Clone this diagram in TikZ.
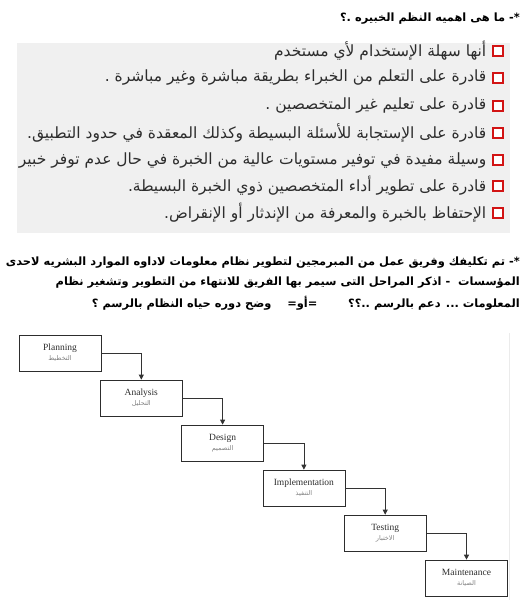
\documentclass[tikz,border=0pt]{standalone}
\usepackage{fontspec}
\setmainfont{Liberation Serif}
\newfontfamily\arabicfont[Script=Arabic]{DejaVu Sans}
\usepackage{xcolor}
\usepackage{tikz}
\usetikzlibrary{positioning, arrows.meta}
\TeXXeTstate=1

\definecolor{boxred}{RGB}{210,20,20}
\definecolor{itemgray}{RGB}{45,45,45}
\definecolor{panelgray}{RGB}{240,240,240}
\definecolor{stagegray}{RGB}{45,45,45}

\tikzset{
  itemtext/.style={anchor=east, inner sep=0pt, text=itemgray, font=\arabicfont\fontsize{15.5}{18}\selectfont},
  headtext/.style={anchor=east, inner sep=0pt, font=\arabicfont\bfseries\fontsize{11.4}{13}\selectfont},
  tick/.style={draw=boxred, fill=white, line width=1.1pt, minimum size=10pt, inner sep=0pt},
  stage/.style={draw=stagegray, line width=0.7pt, minimum width=82pt, minimum height=36pt, align=center, text=stagegray, font=\fontsize{9.5}{10}\selectfont},
  flow/.style={draw=black!80, line width=0.8pt, -{Triangle[length=5pt,width=5pt]}}
}
\newcommand{\ar}[1]{\beginR #1\endR}
\newcommand{\sub}[1]{{\arabicfont\fontsize{6.5}{7.5}\selectfont\color{gray}\beginR #1\endR}}

\begin{document}
\begin{tikzpicture}[x=1pt, y=-1pt, node distance=45pt and 81.3pt, on grid]

  \useasboundingbox (0,0) rectangle (523,600);

  % question one
  \node[headtext] (q1) at (520,19) {\ar{*- ما هى اهميه النظم الخبيره .؟}};

  \fill[panelgray] (17,43) rectangle (510,233);

  \node[tick] (c1) at (498,51) {};
  \node[tick] (c2) at (498,78) {};
  \node[tick] (c3) at (498,106) {};
  \node[tick] (c4) at (498,133) {};
  \node[tick] (c5) at (498,160) {};
  \node[tick] (c6) at (498,186) {};
  \node[tick] (c7) at (498,213) {};

  \node[itemtext] (i1) [left=6pt of c1.west] {\ar{أنها سهلة الإستخدام لأي مستخدم}};
  \node[itemtext] (i2) [left=6pt of c2.west] {\ar{قادرة على التعلم من الخبراء بطريقة مباشرة وغير مباشرة .}};
  \node[itemtext] (i3) [left=6pt of c3.west] {\ar{قادرة على تعليم غير المتخصصين .}};
  \node[itemtext] (i4) [left=6pt of c4.west] {\ar{قادرة على الإستجابة للأسئلة البسيطة وكذلك المعقدة في حدود التطبيق.}};
  \node[itemtext] (i5) [left=6pt of c5.west] {\ar{وسيلة مفيدة في توفير مستويات عالية من الخبرة في حال عدم توفر خبير}};
  \node[itemtext] (i6) [left=6pt of c6.west] {\ar{قادرة على تطوير أداء المتخصصين ذوي الخبرة البسيطة.}};
  \node[itemtext] (i7) [left=6pt of c7.west] {\ar{الإحتفاظ بالخبرة والمعرفة من الإندثار أو الإنقراض.}};

  % question two
  \node[headtext] (p1) at (520,263) {\ar{*- تم تكليفك وفريق عمل من المبرمجين لتطوير نظام معلومات لاداوه الموارد البشريه لاحدى}};
  \node[headtext] (p2) at (520,283) {\ar{المؤسسات \ - اذكر المراحل التى سيمر بها الفريق للانتهاء من التطوير وتشغير نظام}};
  \node[headtext] (p3) at (520,303) {\ar{المعلومات ... دعم بالرسم ..؟؟ \qquad\ =أو= \ \ \ وضح دوره حياه النظام بالرسم ؟}};

  % life cycle
  \node[stage] (Pl) at (60,353) {Planning\\\sub{التخطيط}};
  \node[stage] (An) [below right=of Pl] {Analysis\\\sub{التحليل}};
  \node[stage] (De) [below right=of An] {Design\\\sub{التصميم}};
  \node[stage] (Im) [below right=of De] {Implementation\\\sub{التنفيذ}};
  \node[stage] (Te) [below right=of Im] {Testing\\\sub{الاختبار}};
  \node[stage] (Ma) [below right=of Te] {Maintenance\\\sub{الصيانة}};

  \draw[flow] (Pl.east) -| (An.north);
  \draw[flow] (An.east) -| (De.north);
  \draw[flow] (De.east) -| (Im.north);
  \draw[flow] (Im.east) -| (Te.north);
  \draw[flow] (Te.east) -| (Ma.north);

  \draw[black!8, line width=0.8pt] (509,333) -- (509,600);

\end{tikzpicture}
\end{document}
